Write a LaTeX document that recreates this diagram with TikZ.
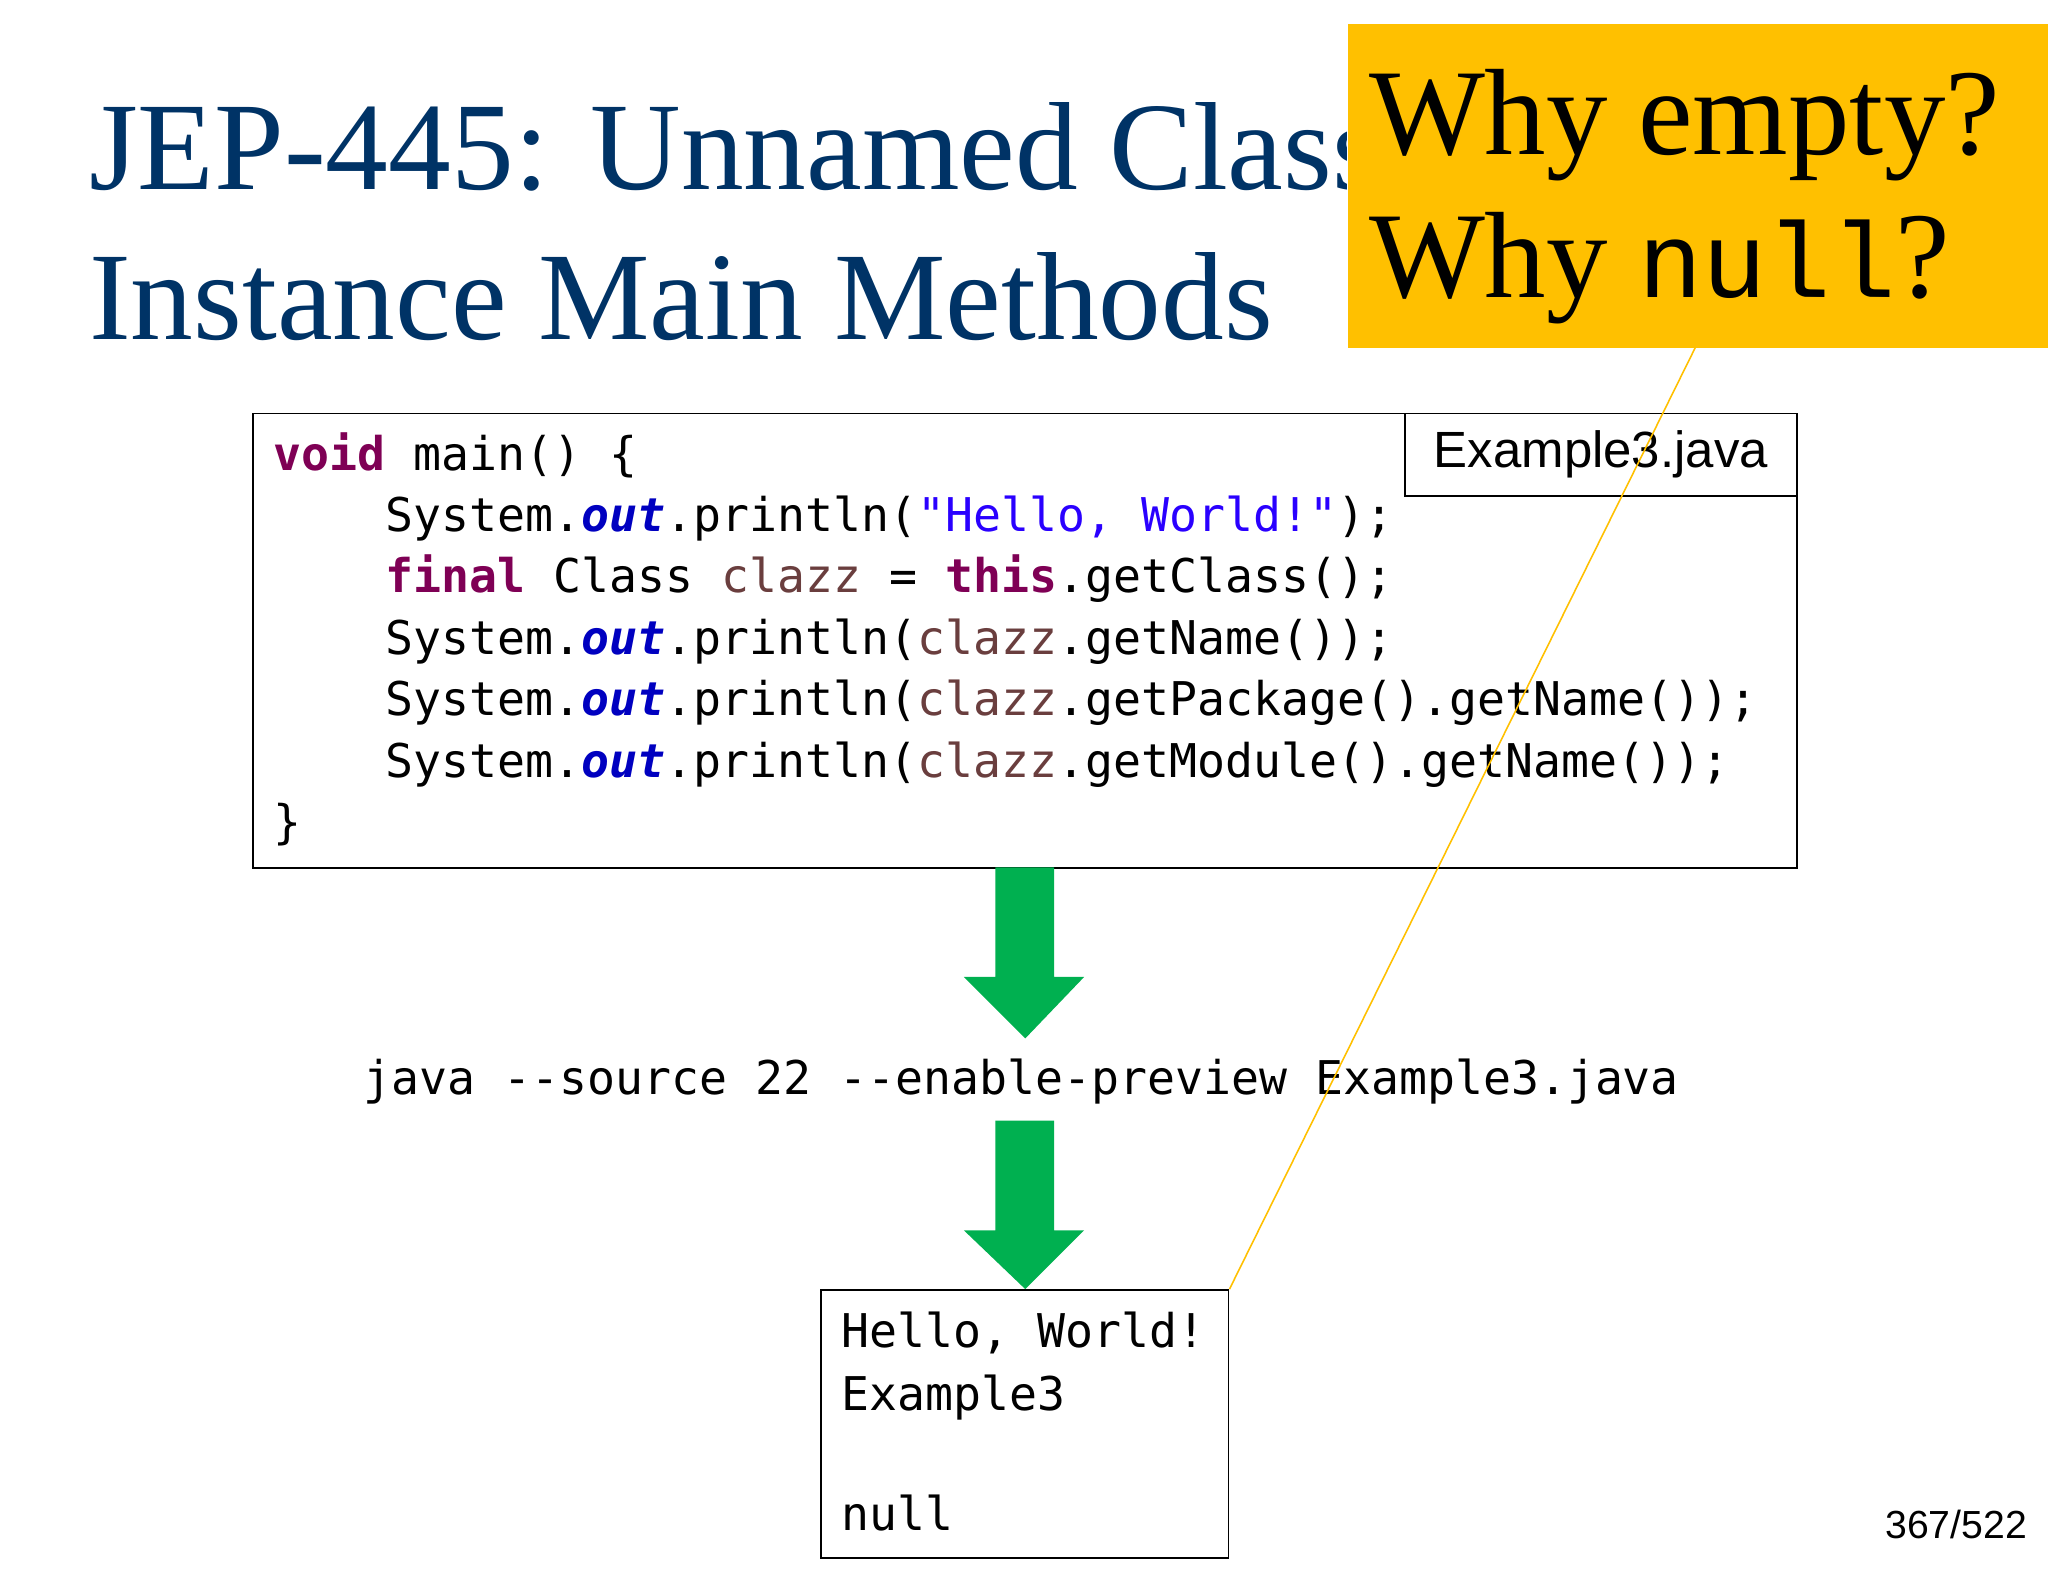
\documentclass[tikz,border=0pt]{standalone}
\usepackage{fontspec}
\setmainfont{Liberation Serif}
\newfontfamily\codefont{DejaVu Sans Mono}
\newfontfamily\cournew{Liberation Mono}
\newfontfamily\arialf{Liberation Sans}
\definecolor{titleblue}{HTML}{003366}
\definecolor{callout}{HTML}{FFC000}
\definecolor{kw}{HTML}{7F0055}
\definecolor{fld}{HTML}{0000C0}
\definecolor{str}{HTML}{2A00FF}
\definecolor{var}{HTML}{6A3E3E}
\definecolor{arrowgreen}{HTML}{00B050}
\newcommand{\K}[1]{\textcolor{kw}{\bfseries #1}}
\newcommand{\F}[1]{\textcolor{fld}{\bfseries\itshape #1}}
\newcommand{\V}[1]{\textcolor{var}{#1}}
\begin{document}
\begin{tikzpicture}[x=1pt,y=-1pt,
  txt/.style={anchor=base west,inner sep=0pt},
  code/.style={txt,font=\codefont\fontsize{35.6}{40}\selectfont},
  ttl/.style={txt,font=\fontsize{96}{106}\selectfont,text=titleblue},
  bigarrow/.style={fill=arrowgreen,draw=none}]
\useasboundingbox (0,0) rectangle (1568,1211);
\fill[white] (0,0) rectangle (1568,1211);
% title (cut by the callout)
\begin{scope}
\clip (0,0) rectangle (1031,300);
\node[ttl] (t1) at (68,145) {JEP-445: Unnamed Classes and};
\end{scope}
\node[ttl] (t2) at (68,260) {Instance Main Methods};
% callout
\node[fill=callout,minimum width=536,minimum height=248,anchor=north west,inner sep=0] (call) at (1032,18) {};
\node[txt,font=\fontsize{94}{100}\selectfont] (c1) at (1048,118) {Why empty?};
\node[txt,font=\fontsize{94}{100}\selectfont] (c2) at (1048,228) {Why {\cournew\fontsize{82}{90}\selectfont null}?};
% code box
\node[draw,line width=1.3,minimum width=1182,minimum height=348,anchor=north west,inner sep=0] (codebox) at (193,316) {};
\node[draw,line width=1.3,fill=white,minimum width=300,minimum height=63,anchor=north west,inner sep=0,font=\arialf\fontsize{39}{42}\selectfont] (fname) at (1075,316) {Example3.java};
\node[code] (l1) at (209,360) {\K{void} main() \{};
\node[code] (l2) at (295,407) {System.\F{out}.println(\textcolor{str}{"Hello, World!"});};
\node[code] (l3) at (295,454) {\K{final} Class \V{clazz} = \K{this}.getClass();};
\node[code] (l4) at (295,501) {System.\F{out}.println(\V{clazz}.getName());};
\node[code] (l5) at (295,548) {System.\F{out}.println(\V{clazz}.getPackage().getName());};
\node[code] (l6) at (295,595) {System.\F{out}.println(\V{clazz}.getModule().getName());};
\node[code] (l7) at (209,642) {\}};
% arrows
\fill[bigarrow] (762,664) -- (807,664) -- (807,748) -- (830,748) -- (785,795) -- (738,748) -- (762,748) -- cycle;
\node[code] (cmd) at (278,838) {java --source 22 --enable-preview Example3.java};
\fill[bigarrow] (762,858) -- (807,858) -- (807,942) -- (830,942) -- (785,987) -- (738,942) -- (762,942) -- cycle;
% output
\node[draw,line width=1.3,minimum width=312,minimum height=205,anchor=north west,inner sep=0] (out) at (628,987) {};
\node[code] (o1) at (644,1032) {Hello, World!};
\node[code] (o2) at (644,1080) {Example3};
\node[code] (o3) at (644,1172) {null};
\node[anchor=base east,inner sep=0,font=\arialf\fontsize{30}{32}\selectfont] (pg) at (1552,1178) {367/522};
% pointer line
\coordinate (p1) at (1298,266);
\draw[callout,line width=1.2] (p1) -- (out.north east);
\end{tikzpicture}
\end{document}
